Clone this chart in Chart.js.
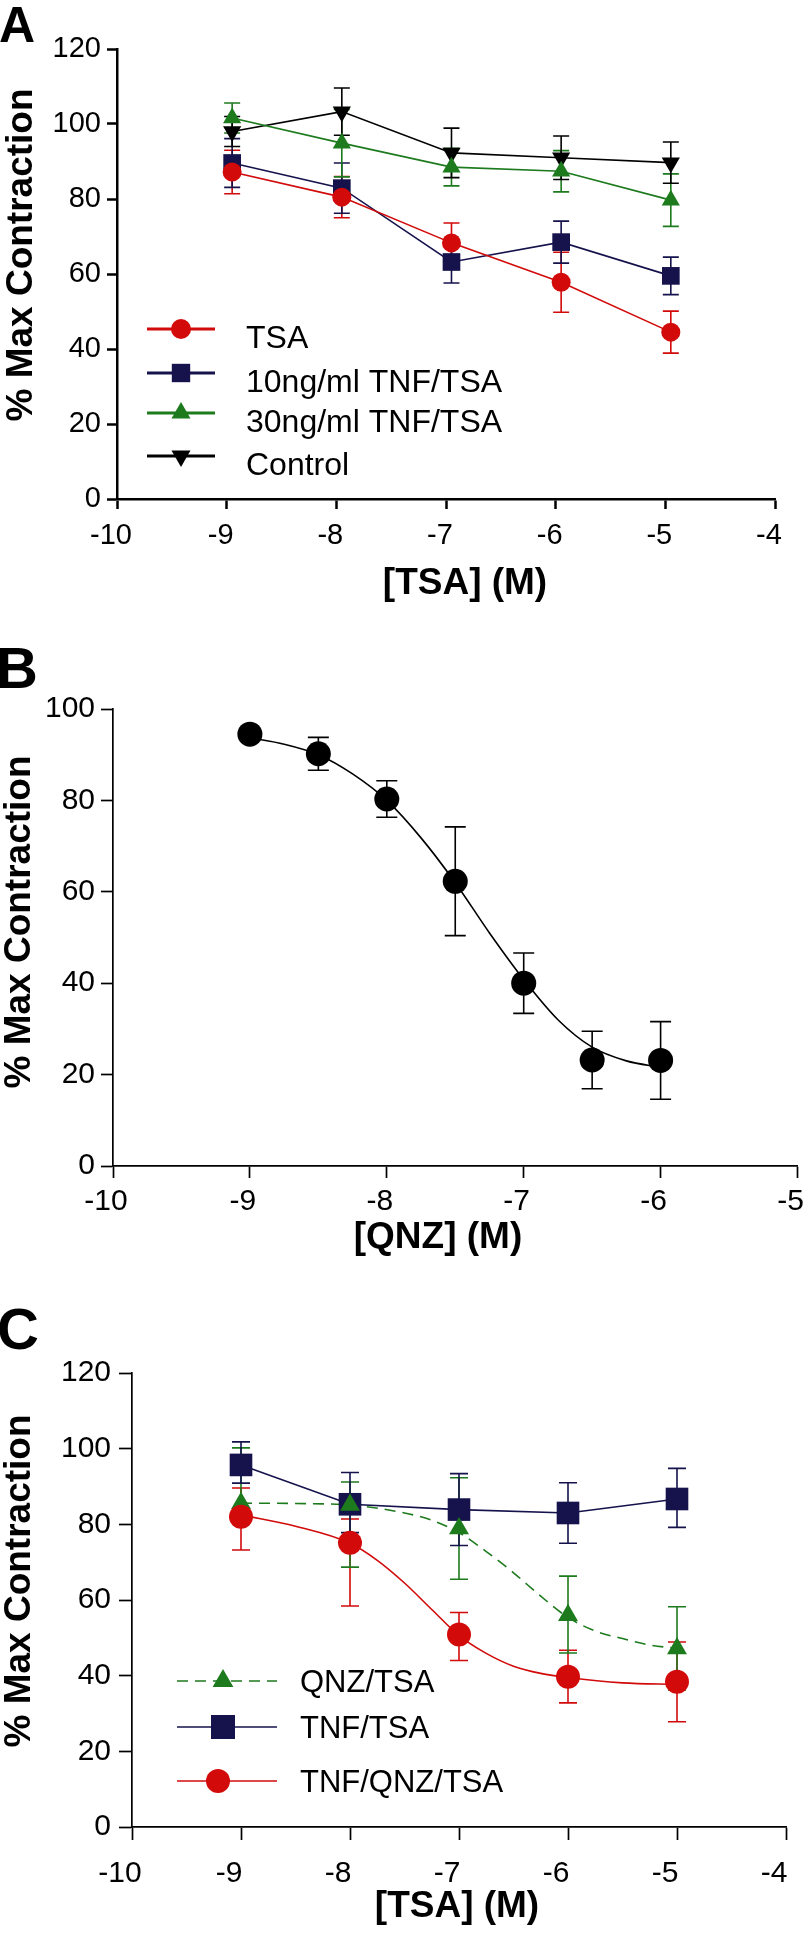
<!DOCTYPE html>
<html>
<head>
<meta charset="utf-8">
<title>% Max Contraction</title>
<script src="https://cdn.jsdelivr.net/npm/chart.js@4.4.1/dist/chart.umd.min.js"></script>
<style>
  html, body { margin: 0; padding: 0; background: #fff; }
  body { width: 810px; height: 1935px; position: relative; overflow: hidden; font-family: "Liberation Sans", Arial, sans-serif; }
  .panel { position: absolute; left: 0; width: 810px; }
  .letter { position: absolute; font-weight: bold; line-height: 1; color: #000; }
</style>
</head>
<body>
<div class="panel" style="top:0;height:620px"><canvas id="chartA"></canvas></div>
<div class="panel" style="top:620px;height:650px"><canvas id="chartB"></canvas></div>
<div class="panel" style="top:1270px;height:665px"><canvas id="chartC"></canvas></div>
<div class="letter" style="left:-1px;top:0px;font-size:50px">A</div>
<div class="letter" style="left:-4px;top:639px;font-size:58px">B</div>
<div class="letter" style="left:-3px;top:1300px;font-size:58px">C</div>

<script>
// ---- Panel A: log[TSA] vs % max contraction ----
const xA = [-8.95, -7.95, -6.95, -5.95, -4.95];
const tsaA = [87.2, 80.5, 68.3, 57.8, 44.5];
const tsaAErr = [5.8, 5.5, 5.3, 8, 5.6];
const tnf10A = [89.6, 82.9, 63.2, 68.5, 59.5];
const tnf10AErr = [6.5, 6.7, 5.6, 5.6, 5];
const tnf30A = [101.6, 94.9, 88.5, 87.4, 79.7];
const tnf30AErr = [4, 9, 5, 5.5, 7];
const controlA = [98, 103.3, 92.3, 91, 89.7];
const controlAErr = [4, 6.3, 6.6, 5.8, 5.5];

// ---- Panel B: log[QNZ] ----
const xB = [-9, -8.5, -8, -7.5, -7, -6.5, -6];
const qnzB = [94.5, 90.2, 80.3, 62.3, 40.0, 23.2, 23.1];
const qnzBErr = [0, 3.6, 4, 11.9, 6.6, 6.3, 8.5];
// fitted curve
const fitBx = [-9, -8.75, -8.5, -8.25, -8, -7.75, -7.5, -7.25, -7, -6.75, -6.5, -6.25, -6];
const fitB = [93.7, 92.3, 90.0, 85.8, 80.0, 71.8, 62.0, 51.0, 40.8, 32.0, 26.0, 23.0, 21.6];

// ---- Panel C: log[TSA] with QNZ / TNF ----
const xC = [-9, -8, -7, -6, -5];
const tnfC = [95.7, 85.3, 83.9, 83.0, 86.7];
const tnfCErr = [[4.8, 6.1], [7.5, 8.4], [9.5, 9.5], [8, 8], [7.5, 8.1]];   // [down, up]
const qnzC = [85.6, 85.1, 78.9, 56.0, 47.2];
const qnzCErr = [[5.2, 14.6], [16.4, 6.1], [13.4, 13.4], [10, 10.3], [11, 11]];
const tnfQnzC = [82.0, 75.1, 50.9, 39.7, 38.4];
const tnfQnzCErr = [[8.8, 7.6], [16.7, 6.3], [6.9, 5.8], [6.9, 7], [10.6, 10.5]];
// fitted curves
const fitQnzX = [-9, -8.5, -8, -7.5, -7.25, -7, -6.75, -6.5, -6.25, -6, -5.75, -5.5, -5.25, -5];
const fitQnz = [85.6, 85.5, 85.1, 83.0, 81.1, 77.8, 72.8, 67.2, 61.0, 55.4, 51.8, 49.8, 48.1, 47.2];
const fitTnfQnzX = [-9, -8.5, -8, -7.75, -7.5, -7.25, -7, -6.75, -6.5, -6.25, -6, -5.5, -5];
const fitTnfQnz = [82.5, 79.5, 75.0, 70.5, 64.5, 57.5, 50.6, 45.9, 42.5, 40.6, 39.5, 38.1, 37.7];

const RED = '#d20a0a';
const NAVY = '#15124c';
const GREEN = '#1d7a1d';
const BLACK = '#000000';

Chart.defaults.font.family = '"Liberation Sans", Arial, sans-serif';
Chart.defaults.color = '#000';

function pts(xs, ys) {
    return xs.map((x, i) => ({ x: x, y: ys[i] }));
}

function markerSeries(label, xs, ys, errs, color, style, radius, rotation, withLine) {
    return {
        label: label,
        data: pts(xs, ys),
        errors: errs,
        showLine: withLine,
        borderColor: color,
        borderWidth: 1.6,
        backgroundColor: color,
        pointStyle: style,
        pointRadius: radius,
        pointHoverRadius: radius,
        pointRotation: rotation || 0,
        pointBackgroundColor: color,
        pointBorderWidth: 0,
        tension: 0
    };
}

function curveSeries(xs, ys, color, dash) {
    return {
        data: pts(xs, ys),
        showLine: true,
        borderColor: color,
        borderWidth: 1.6,
        borderDash: dash || [],
        pointRadius: 0,
        cubicInterpolationMode: 'monotone'
    };
}

// error bars drawn under the markers
const errorBars = {
    id: 'errorBars',
    beforeDatasetsDraw(chart, args, opts) {
        const ctx = chart.ctx;
        const yScale = chart.scales.y;
        chart.data.datasets.forEach((ds, i) => {
            if (!ds.errors) return;
            const meta = chart.getDatasetMeta(i);
            ctx.save();
            ctx.strokeStyle = ds.borderColor;
            ctx.lineWidth = opts.lineWidth;
            meta.data.forEach((el, j) => {
                const e = ds.errors[j];
                const lo = Array.isArray(e) ? e[0] : e;
                const hi = Array.isArray(e) ? e[1] : e;
                if (!lo && !hi) return;
                const v = ds.data[j].y;
                const yTop = yScale.getPixelForValue(v + hi);
                const yBot = yScale.getPixelForValue(v - lo);
                const half = opts.capWidth / 2;
                ctx.beginPath();
                ctx.moveTo(el.x, yTop);
                ctx.lineTo(el.x, yBot);
                ctx.moveTo(el.x - half, yTop);
                ctx.lineTo(el.x + half, yTop);
                ctx.moveTo(el.x - half, yBot);
                ctx.lineTo(el.x + half, yBot);
                ctx.stroke();
            });
            ctx.restore();
        });
    }
};

function drawMarker(ctx, style, x, y, r, rotation) {
    ctx.beginPath();
    if (style === 'circle') {
        ctx.arc(x, y, r, 0, Math.PI * 2);
    } else if (style === 'rect') {
        const s = r * Math.SQRT1_2;
        ctx.rect(x - s, y - s, 2 * s, 2 * s);
    } else if (style === 'triangle') {
        const d = rotation === 180 ? -1 : 1;
        ctx.moveTo(x, y - d * r);
        ctx.lineTo(x + 0.866 * r, y + d * r / 2);
        ctx.lineTo(x - 0.866 * r, y + d * r / 2);
        ctx.closePath();
    }
    ctx.fill();
}

// legend with line + marker samples placed inside the plot
const lineLegend = {
    id: 'lineLegend',
    afterDraw(chart, args, opts) {
        const ctx = chart.ctx;
        opts.items.forEach(item => {
            ctx.save();
            ctx.strokeStyle = item.color;
            ctx.lineWidth = opts.lineWidth;
            ctx.setLineDash(item.dash || []);
            ctx.beginPath();
            ctx.moveTo(opts.lineX[0], item.y);
            ctx.lineTo(opts.lineX[1], item.y);
            ctx.stroke();
            ctx.setLineDash([]);
            ctx.fillStyle = item.color;
            drawMarker(ctx, item.style, item.markerX || opts.markerX, item.y, item.radius, item.rotation || 0);
            ctx.fillStyle = '#000';
            ctx.font = opts.fontSize + 'px "Liberation Sans", Arial, sans-serif';
            ctx.textAlign = 'left';
            ctx.textBaseline = 'middle';
            ctx.fillText(item.label, opts.textX, item.y + opts.textDy);
            ctx.restore();
        });
    }
};

// bold axis titles
const axisTitles = {
    id: 'axisTitles',
    afterDraw(chart, args, opts) {
        const ctx = chart.ctx;
        ctx.save();
        ctx.fillStyle = '#000';
        ctx.font = 'bold ' + opts.fontSize + 'px "Liberation Sans", Arial, sans-serif';
        ctx.textAlign = 'center';
        ctx.textBaseline = 'middle';
        ctx.fillText(opts.xText, opts.xAt[0], opts.xAt[1]);
        ctx.translate(opts.yAt[0], opts.yAt[1]);
        ctx.rotate(-Math.PI / 2);
        ctx.fillText(opts.yText, 0, 0);
        ctx.restore();
    }
};

function axes(p) {
    const tickFont = { size: p.tickSize };
    const grid = {
        display: true, drawOnChartArea: false, drawTicks: true,
        tickLength: p.tickLen, tickWidth: p.axisWidth, tickColor: '#000', color: '#000'
    };
    const border = { display: true, color: '#000', width: p.axisWidth };
    return {
        x: {
            type: 'linear', min: p.xMin, max: p.xMax,
            ticks: { stepSize: 1, font: tickFont, color: '#000', padding: p.xPad, labelOffset: p.labelOffset, maxRotation: 0, minRotation: 0, autoSkip: false },
            grid: grid, border: border,
            afterFit(s) { s.height = p.xHeight; s.paddingLeft = 0; s.paddingRight = 0; }
        },
        y: {
            type: 'linear', min: 0, max: p.yMax,
            ticks: { stepSize: 20, font: tickFont, color: '#000', padding: p.yPad },
            grid: grid, border: border,
            afterFit(s) { s.width = p.yWidth; }
        }
    };
}

function baseOptions(p, plugins) {
    return {
        responsive: true,
        maintainAspectRatio: false,
        animation: false,
        events: [],
        layout: { padding: { left: 0, top: p.top, right: p.right, bottom: 0 } },
        scales: axes(p),
        plugins: Object.assign({ legend: { display: false }, tooltip: { enabled: false } }, plugins)
    };
}

// Panel A
new Chart(document.getElementById('chartA'), {
    type: 'scatter',
    data: {
        datasets: [
            markerSeries('TSA', xA, tsaA, tsaAErr, RED, 'circle', 9.5, 0, true),
            markerSeries('10ng/ml TNF/TSA', xA, tnf10A, tnf10AErr, NAVY, 'rect', 12.5, 0, true),
            markerSeries('30ng/ml TNF/TSA', xA, tnf30A, tnf30AErr, GREEN, 'triangle', 10.5, 0, true),
            markerSeries('Control', xA, controlA, controlAErr, BLACK, 'triangle', 10.5, 180, true)
        ]
    },
    options: baseOptions(
        { xMin: -10, xMax: -4, yMax: 120, top: 49, right: 35, xHeight: 121, yWidth: 117,
          tickSize: 29, tickLen: 10, axisWidth: 2.5, xPad: 10, yPad: 6, labelOffset: -6 },
        {
            errorBars: { lineWidth: 1.6, capWidth: 16 },
            lineLegend: {
                lineWidth: 3, lineX: [147, 215], markerX: 181, textX: 246, textDy: 10, fontSize: 32,
                items: [
                    { label: 'TSA', color: RED, style: 'circle', radius: 10, y: 329 },
                    { label: '10ng/ml TNF/TSA', color: NAVY, style: 'rect', radius: 13, y: 373 },
                    { label: '30ng/ml TNF/TSA', color: GREEN, style: 'triangle', radius: 11, y: 413 },
                    { label: 'Control', color: BLACK, style: 'triangle', radius: 11, rotation: 180, y: 456 }
                ]
            },
            axisTitles: { fontSize: 37, xText: '[TSA] (M)', xAt: [465, 584], yText: '% Max Contraction', yAt: [22, 255] }
        }
    ),
    plugins: [errorBars, lineLegend, axisTitles]
});

// Panel B
new Chart(document.getElementById('chartB'), {
    type: 'scatter',
    data: {
        datasets: [
            markerSeries('QNZ', xB, qnzB, qnzBErr, BLACK, 'circle', 12.5, 0, false),
            curveSeries(fitBx, fitB, BLACK)
        ]
    },
    options: baseOptions(
        { xMin: -10, xMax: -5, yMax: 100, top: 89, right: 7, xHeight: 104, yWidth: 113,
          tickSize: 30, tickLen: 12, axisWidth: 1.7, xPad: 6, yPad: 6, labelOffset: -7 },
        {
            errorBars: { lineWidth: 1.6, capWidth: 21 },
            lineLegend: { items: [] },
            axisTitles: { fontSize: 37, xText: '[QNZ] (M)', xAt: [438, 618], yText: '% Max Contraction', yAt: [20, 302] }
        }
    ),
    plugins: [errorBars, axisTitles]
});

// Panel C
new Chart(document.getElementById('chartC'), {
    type: 'scatter',
    data: {
        datasets: [
            markerSeries('TNF/QNZ/TSA', xC, tnfQnzC, tnfQnzCErr, RED, 'circle', 12, 0, false),
            markerSeries('QNZ/TSA', xC, qnzC, qnzCErr, GREEN, 'triangle', 11.5, 0, false),
            markerSeries('TNF/TSA', xC, tnfC, tnfCErr, NAVY, 'rect', 16, 0, true),
            curveSeries(fitTnfQnzX, fitTnfQnz, RED),
            curveSeries(fitQnzX, fitQnz, GREEN, [11, 7])
        ]
    },
    options: baseOptions(
        { xMin: -10, xMax: -4, yMax: 120, top: 103, right: 24, xHeight: 108, yWidth: 132,
          tickSize: 30, tickLen: 13, axisWidth: 1.7, xPad: 16, yPad: 8, labelOffset: -12 },
        {
            errorBars: { lineWidth: 1.6, capWidth: 18 },
            lineLegend: {
                lineWidth: 1.6, lineX: [177, 277], markerX: 223, textX: 300, textDy: 2, fontSize: 31,
                items: [
                    { label: 'QNZ/TSA', color: GREEN, style: 'triangle', radius: 12, y: 411, dash: [11, 7] },
                    { label: 'TNF/TSA', color: NAVY, style: 'rect', radius: 17, y: 457 },
                    { label: 'TNF/QNZ/TSA', color: RED, style: 'circle', radius: 12, markerX: 218, y: 511 }
                ]
            },
            axisTitles: { fontSize: 37, xText: '[TSA] (M)', xAt: [457, 637], yText: '% Max Contraction', yAt: [20, 311] }
        }
    ),
    plugins: [errorBars, lineLegend, axisTitles]
});
</script>
</body>
</html>
